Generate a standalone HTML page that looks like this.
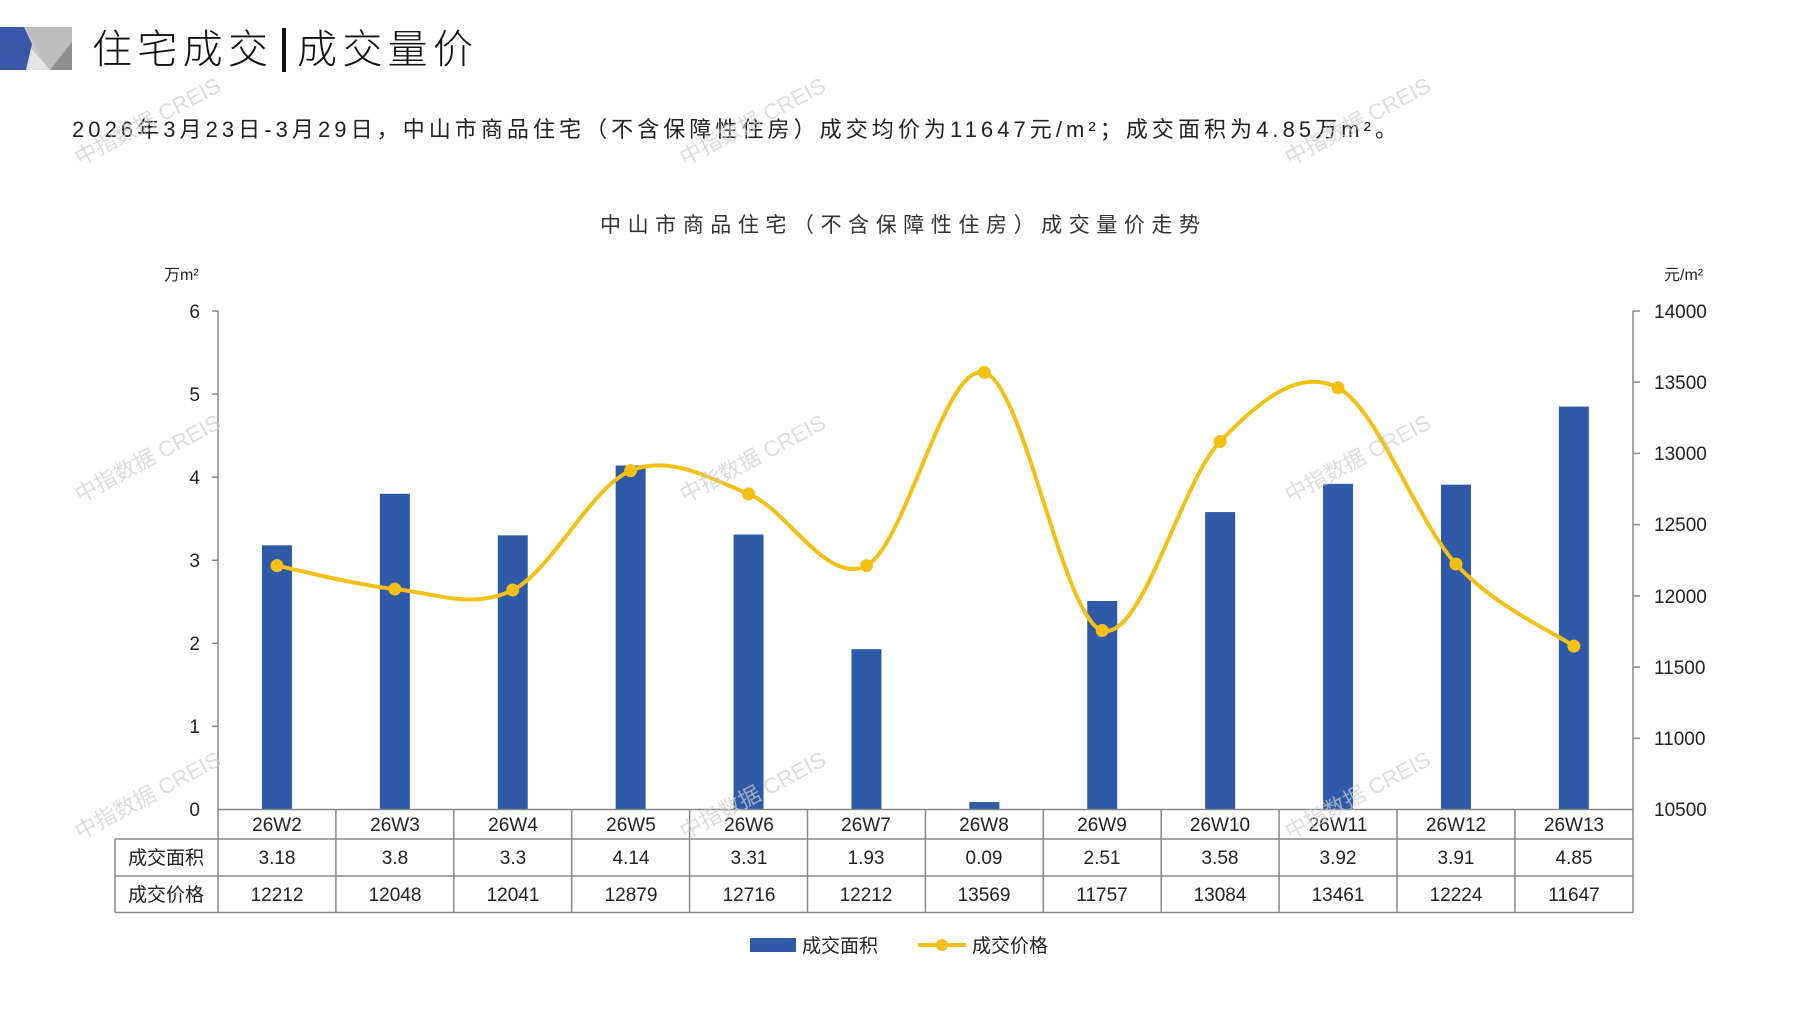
<!DOCTYPE html>
<html><head><meta charset="utf-8"><style>
html,body{margin:0;padding:0;background:#fff;}
body{width:1797px;height:1010px;overflow:hidden;position:relative;font-family:"Liberation Sans","Noto Sans CJK SC",sans-serif;}
svg text{font-family:"Liberation Sans","Noto Sans CJK SC",sans-serif;}
</style></head><body>
<svg width="1797" height="1010" viewBox="0 0 1797 1010" xmlns="http://www.w3.org/2000/svg">
<rect x="0" y="27" width="72" height="43" fill="#c8c8c8"/>
<polygon points="25,27 72,27 72,70 48,70" fill="#bdbdbd"/>
<polygon points="28,45 50,70 26,70" fill="#e4e4e4"/>
<polygon points="72,42 72,70 50,70" fill="#8f8f8f"/>
<polygon points="0,27 24,27 32,44 26,70 0,70" fill="#3a56a6"/>
<text x="92" y="63" font-size="40" fill="#111" font-weight="300" textLength="176" lengthAdjust="spacing">住宅成交</text>
<rect x="282" y="28" width="4" height="44" fill="#111"/>
<text x="297" y="63" font-size="40" fill="#111" font-weight="300" textLength="176" lengthAdjust="spacing">成交量价</text>
<text x="72" y="137" font-size="22" fill="#222" textLength="1325" lengthAdjust="spacing">2026年3月23日-3月29日，中山市商品住宅（不含保障性住房）成交均价为11647元/m²；成交面积为4.85万m²。</text>
<text x="900" y="232" font-size="21" fill="#333" text-anchor="middle" textLength="600" lengthAdjust="spacing">中山市商品住宅（不含保障性住房）成交量价走势</text>
<text x="164" y="280" font-size="16" fill="#222">万m²</text>
<text x="1664" y="280" font-size="16" fill="#222">元/m²</text>
<g stroke="#888" stroke-width="1.5" fill="none">
<line x1="218" y1="311" x2="218" y2="809.5"/>
<line x1="1633" y1="311" x2="1633" y2="809.5"/>
<line x1="212" y1="311" x2="218" y2="311"/><line x1="212" y1="394.1" x2="218" y2="394.1"/><line x1="212" y1="477.2" x2="218" y2="477.2"/><line x1="212" y1="560.3" x2="218" y2="560.3"/><line x1="212" y1="643.3" x2="218" y2="643.3"/><line x1="212" y1="726.4" x2="218" y2="726.4"/>
<line x1="1633" y1="311" x2="1640" y2="311"/><line x1="1633" y1="382.2" x2="1640" y2="382.2"/><line x1="1633" y1="453.4" x2="1640" y2="453.4"/><line x1="1633" y1="524.6" x2="1640" y2="524.6"/><line x1="1633" y1="595.9" x2="1640" y2="595.9"/><line x1="1633" y1="667.1" x2="1640" y2="667.1"/><line x1="1633" y1="738.3" x2="1640" y2="738.3"/>
</g>
<g font-size="19" fill="#222" text-anchor="end">
<text x="200" y="318">6</text><text x="200" y="401">5</text><text x="200" y="484">4</text><text x="200" y="567">3</text><text x="200" y="650">2</text><text x="200" y="733">1</text><text x="200" y="816">0</text>
</g>
<g font-size="19" fill="#222">
<text x="1654" y="318">14000</text><text x="1654" y="389">13500</text><text x="1654" y="460">13000</text><text x="1654" y="531">12500</text><text x="1654" y="603">12000</text><text x="1654" y="674">11500</text><text x="1654" y="745">11000</text><text x="1654" y="816">10500</text>
</g>
<g id="bars" fill="#2e5aa7"></g>
<path id="curve" fill="none" stroke="#f5c016" stroke-width="4"/>
<g id="dots" fill="#f5c016"></g>
<g stroke="#888" stroke-width="1.5" fill="none">
<line x1="218" y1="809.5" x2="1633" y2="809.5"/>
<line x1="115" y1="839" x2="1633" y2="839"/>
<line x1="115" y1="876" x2="1633" y2="876"/>
<line x1="115" y1="912.5" x2="1633" y2="912.5"/>
<line x1="115" y1="839" x2="115" y2="912.5"/>
<line x1="218" y1="809.5" x2="218" y2="912.5"/>
<line x1="335.9" y1="809.5" x2="335.9" y2="912.5"/><line x1="453.8" y1="809.5" x2="453.8" y2="912.5"/><line x1="571.7" y1="809.5" x2="571.7" y2="912.5"/><line x1="689.6" y1="809.5" x2="689.6" y2="912.5"/><line x1="807.5" y1="809.5" x2="807.5" y2="912.5"/><line x1="925.4" y1="809.5" x2="925.4" y2="912.5"/><line x1="1043.3" y1="809.5" x2="1043.3" y2="912.5"/><line x1="1161.2" y1="809.5" x2="1161.2" y2="912.5"/><line x1="1279.1" y1="809.5" x2="1279.1" y2="912.5"/><line x1="1397" y1="809.5" x2="1397" y2="912.5"/><line x1="1514.9" y1="809.5" x2="1514.9" y2="912.5"/>
<line x1="1633" y1="809.5" x2="1633" y2="912.5"/>
</g>
<g font-size="19" fill="#222" text-anchor="middle">
<text x="277" y="831">26W2</text><text x="395" y="831">26W3</text><text x="513" y="831">26W4</text><text x="631" y="831">26W5</text><text x="749" y="831">26W6</text><text x="866" y="831">26W7</text><text x="984" y="831">26W8</text><text x="1102" y="831">26W9</text><text x="1220" y="831">26W10</text><text x="1338" y="831">26W11</text><text x="1456" y="831">26W12</text><text x="1574" y="831">26W13</text>
<text x="166" y="864">成交面积</text>
<text x="277" y="864">3.18</text><text x="395" y="864">3.8</text><text x="513" y="864">3.3</text><text x="631" y="864">4.14</text><text x="749" y="864">3.31</text><text x="866" y="864">1.93</text><text x="984" y="864">0.09</text><text x="1102" y="864">2.51</text><text x="1220" y="864">3.58</text><text x="1338" y="864">3.92</text><text x="1456" y="864">3.91</text><text x="1574" y="864">4.85</text>
<text x="166" y="901">成交价格</text>
<text x="277" y="901">12212</text><text x="395" y="901">12048</text><text x="513" y="901">12041</text><text x="631" y="901">12879</text><text x="749" y="901">12716</text><text x="866" y="901">12212</text><text x="984" y="901">13569</text><text x="1102" y="901">11757</text><text x="1220" y="901">13084</text><text x="1338" y="901">13461</text><text x="1456" y="901">12224</text><text x="1574" y="901">11647</text>
</g>
<rect x="750" y="938" width="46" height="14" fill="#2e5aa7"/>
<text x="802" y="952" font-size="19" fill="#222">成交面积</text>
<line x1="918" y1="945" x2="966" y2="945" stroke="#f5c016" stroke-width="4"/>
<circle cx="942" cy="945" r="6" fill="#f5c016"/>
<text x="972" y="952" font-size="19" fill="#222">成交价格</text>
<g font-size="22" fill="#cfcfcf" opacity="0.7">
<text transform="translate(80,166) rotate(-28)">中指数据 CREIS</text>
<text transform="translate(685,166) rotate(-28)">中指数据 CREIS</text>
<text transform="translate(1290,166) rotate(-28)">中指数据 CREIS</text>
<text transform="translate(80,503) rotate(-28)">中指数据 CREIS</text>
<text transform="translate(685,503) rotate(-28)">中指数据 CREIS</text>
<text transform="translate(1290,503) rotate(-28)">中指数据 CREIS</text>
<text transform="translate(80,840) rotate(-28)">中指数据 CREIS</text>
<text transform="translate(685,840) rotate(-28)">中指数据 CREIS</text>
<text transform="translate(1290,840) rotate(-28)">中指数据 CREIS</text>
</g>
</svg>
<script>
(function(){
var area=[3.18,3.8,3.3,4.14,3.31,1.93,0.09,2.51,3.58,3.92,3.91,4.85];
var price=[12212,12048,12041,12879,12716,12212,13569,11757,13084,13461,12224,11647];
var bars=document.getElementById('bars'),dots=document.getElementById('dots');
var ns='http://www.w3.org/2000/svg',pts=[];
for(var i=0;i<12;i++){
 var cx=218+117.9*(i+0.5);
 var h=area[i]*83.08;
 var r=document.createElementNS(ns,'rect');
 r.setAttribute('x',cx-15);r.setAttribute('y',809.5-h);r.setAttribute('width',30);r.setAttribute('height',h);
 bars.appendChild(r);
 var py=809.5-(price[i]-10500)/500*71.21;
 pts.push([cx,py]);
 var c=document.createElementNS(ns,'circle');
 c.setAttribute('cx',cx);c.setAttribute('cy',py);c.setAttribute('r',6.5);dots.appendChild(c);
}
var d='M'+pts[0][0]+','+pts[0][1];
for(var i=0;i<11;i++){
 var p0=pts[Math.max(0,i-1)],p1=pts[i],p2=pts[i+1],p3=pts[Math.min(11,i+2)];
 var t=1/6;
 var c1=[p1[0]+(p2[0]-p0[0])*t,p1[1]+(p2[1]-p0[1])*t];
 var c2=[p2[0]-(p3[0]-p1[0])*t,p2[1]-(p3[1]-p1[1])*t];
 d+=' C'+c1[0]+','+c1[1]+' '+c2[0]+','+c2[1]+' '+p2[0]+','+p2[1];
}
document.getElementById('curve').setAttribute('d',d);
})();
</script>
</body></html>
